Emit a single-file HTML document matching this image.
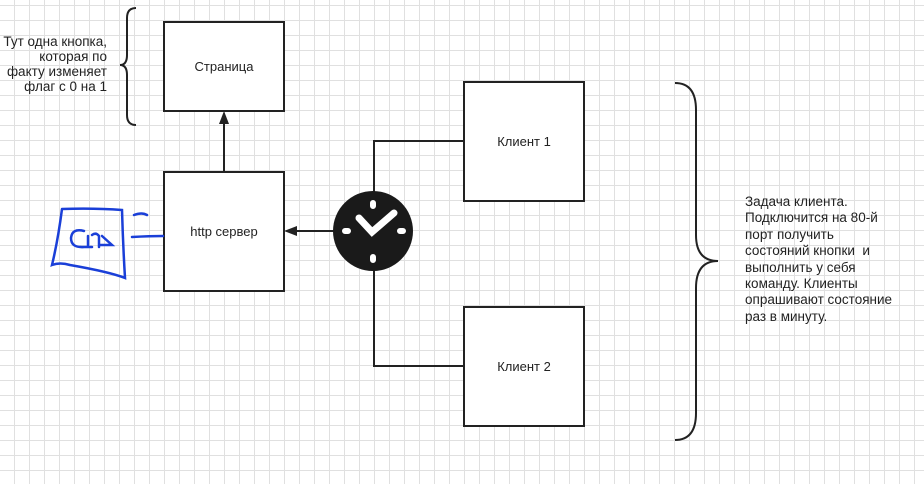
<!DOCTYPE html>
<html><head><meta charset="utf-8"><style>
html,body{margin:0;padding:0}
body{width:924px;height:484px;position:relative;overflow:hidden;background-color:#fff;
background-image:linear-gradient(to right,#e0e0e0 1px,transparent 1px),linear-gradient(to bottom,#e0e0e0 1px,transparent 1px);
background-size:15px 15px;background-position:14px 5px;font-family:"Liberation Sans",sans-serif;color:#222}
.box{position:absolute;border:2px solid #222;background:#fff;box-sizing:border-box;display:flex;align-items:center;justify-content:center;font-size:13px}
.t{position:absolute;font-size:13.5px;line-height:16px;white-space:nowrap}
</style></head><body>
<div class="box" style="left:163px;top:21px;width:122px;height:91px">Страница</div>
<div class="box" style="left:163px;top:171px;width:122px;height:121px">http сервер</div>
<div class="box" style="left:463px;top:81px;width:122px;height:121px">Клиент 1</div>
<div class="box" style="left:463px;top:306px;width:122px;height:121px">Клиент 2</div>
<div class="t" style="left:0;top:34px;width:107px;text-align:right;line-height:15px">Тут одна кнопка,<br>которая по<br>факту изменяет<br>флаг с 0 на 1</div>
<div class="t" style="left:745px;top:194px;line-height:16.4px">Задача клиента.<br>Подключится на 80-й<br>порт получить<br>состояний кнопки&nbsp; и<br>выполнить у себя<br>команду. Клиенты<br>опрашивают состояние<br>раз в минуту.</div>
<svg width="924" height="484" style="position:absolute;left:0;top:0">
<g fill="none" stroke="#222" stroke-width="2">
<path d="M374 192 V141 H463 M374 270 V366 H463"/>
<path d="M334 231 H296"/>
<path d="M224 171 V122"/>
<path d="M136 8 Q127 8 127 18 V55 Q127 65 120 65 Q127 65 127 75 V115 Q127 125 136 125"/>
<path d="M675 83 Q696 83 696 110 V235 Q696 261 718 261 Q696 261 696 288 V413 Q696 440 675 440"/>
</g>
<path d="M284 231 L297 226 L297 236Z" fill="#222"/>
<path d="M224 111 L219 124 L229 124Z" fill="#222"/>
<circle cx="373" cy="231" r="40" fill="#1a1a1a"/>
<g stroke="#fff" stroke-linecap="round" fill="none">
<path d="M373 203 v3 M373 257 v3 M345 231 h3 M400 231 h3" stroke-width="6"/>
<path d="M359 218 L372 232 L394 213" stroke-width="7"/>
</g>
<g fill="none" stroke="#1a3fd8" stroke-width="2.5" stroke-linecap="round">
<path d="M62 209 Q95 208 122 210 Q123 245 125 278 Q110 272 70 265 Q60 262 52 265 Q58 240 62 209"/>
<path d="M134 215 Q142 212 147 215 M132 237 Q150 236 163 236"/>
<path d="M84 231 Q72 228 71 238 Q71 248 84 247 M80 247 H92 M88 236 V247 M92 235 Q96 232 99 236 V247 M102 236 L112 245 H100"/>
</g>
</svg>
</body></html>
